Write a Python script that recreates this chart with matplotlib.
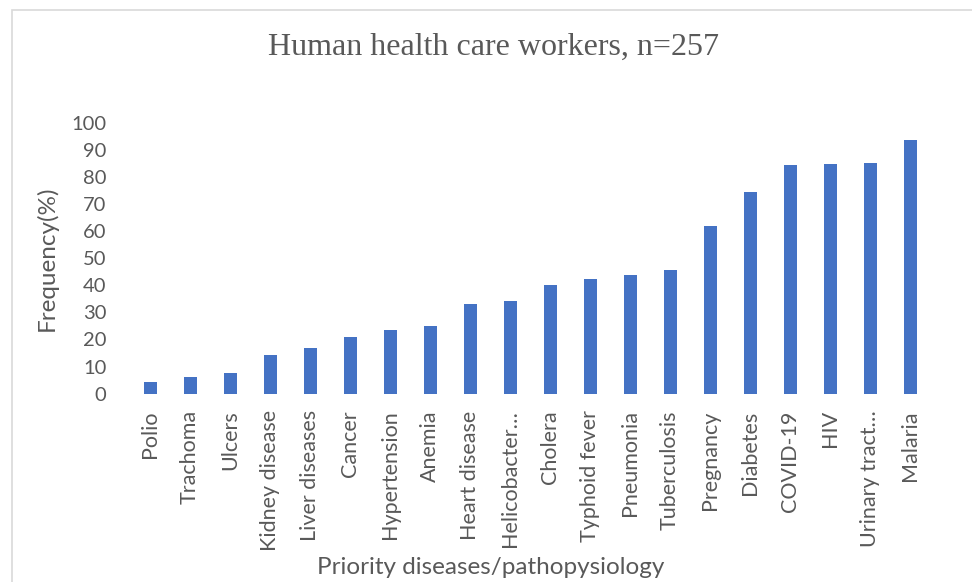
import matplotlib.pyplot as plt
from matplotlib.patches import Rectangle

diseases = ['Polio', 'Trachoma', 'Ulcers', 'Kidney disease', 'Liver diseases',
            'Cancer', 'Hypertension', 'Anemia', 'Heart disease', 'Helicobacter…',
            'Cholera', 'Typhoid fever', 'Pneumonia', 'Tuberculosis', 'Pregnancy',
            'Diabetes', 'COVID-19', 'HIV', 'Urinary tract…', 'Malaria']
frequency = [4.3, 6.2, 7.6, 14.3, 16.7, 20.9, 23.6, 25.1, 33.1, 34.1,
             40.0, 42.3, 43.7, 45.8, 61.9, 74.5, 84.4, 84.6, 85.1, 93.7]
y_ticks = [0, 10, 20, 30, 40, 50, 60, 70, 80, 90, 100]

grey = '#595959'
plt.rcParams['font.family'] = ['Lato', 'DejaVu Sans']

fig = plt.figure(figsize=(9.72, 5.82), dpi=100)

# chart frame, only top and left edges are inside the picture
fig.patches.append(Rectangle((12 / 972, -0.5), 2, 0.5 + 572 / 582,
                             transform=fig.transFigure, fill=False,
                             edgecolor='#d9d9d9', linewidth=1.2))

ax = fig.add_axes([130 / 972, (582 - 393.7) / 582, 800 / 972, 271 / 582])
ax.bar(range(len(diseases)), frequency, width=0.325, color='#4472C4')

ax.set_xlim(-0.5, len(diseases) - 0.5)
ax.set_ylim(0, 100)
ax.set_yticks(y_ticks)
ax.set_xticks(range(len(diseases)))
ax.set_xticklabels(diseases, rotation=90)
ax.tick_params(axis='both', length=0, labelcolor=grey)
ax.tick_params(axis='y', pad=17, labelsize=14.5)
ax.tick_params(axis='x', pad=12, labelsize=15.5)
for s in ax.spines.values():
    s.set_visible(False)

fig.text(493 / 972, 1 - 47 / 582, 'Human health care workers, n=257',
         family='Liberation Serif', fontsize=23, color=grey,
         ha='center', va='center')
fig.text(491 / 972, 1 - 568 / 582, 'Priority diseases/pathopysiology',
         fontsize=17.5, color=grey, ha='center', va='center')
fig.text(47 / 972, 1 - 258 / 582, 'Frequency(%)', fontsize=17.5, color=grey,
         rotation=90, ha='center', va='center')

fig.savefig('out.png', dpi=100)
